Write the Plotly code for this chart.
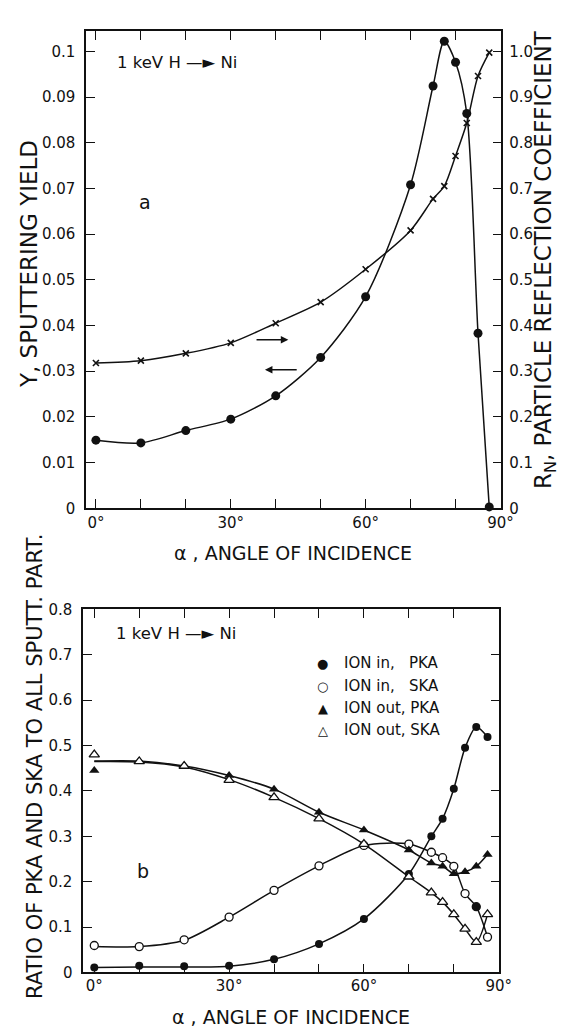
import plotly.graph_objects as go

# ---------------- data ----------------
angles = [0, 10, 20, 30, 40, 50, 60, 70, 75, 77.5, 80, 82.5, 85, 87.5]

# panel a
sputter_yield = [0.0149, 0.0143, 0.0170, 0.0195, 0.0246, 0.0330, 0.0463, 0.0708,
                 0.0924, 0.1022, 0.0976, 0.0864, 0.0383, 0.0003]
reflection = [0.318, 0.323, 0.339, 0.362, 0.405, 0.451, 0.523, 0.608,
              0.677, 0.705, 0.771, 0.843, 0.946, 0.997]

# panel b (measured points)
in_pka = [0.011, 0.015, 0.014, 0.015, 0.029, 0.063, 0.118, 0.217, 0.300, 0.339, 0.405, 0.495, 0.541, 0.519]
in_ska = [0.0595, 0.057, 0.072, 0.122, 0.181, 0.235, 0.280, 0.283, 0.265, 0.253, 0.234, 0.174, 0.145, 0.078]
out_pka = [0.445, 0.466, 0.455, 0.434, 0.404, 0.353, 0.314, 0.270, 0.241, 0.234, 0.2175, 0.222, 0.234, 0.260]
out_ska = [0.480, 0.465, 0.455, 0.424, 0.386, 0.339, 0.283, 0.211, 0.176, 0.155, 0.128, 0.096, 0.067, 0.128]
# one ION-in SKA point is printed as a filled circle in the original
in_ska_filled = [False] * 12 + [True] + [False]

# panel b (drawn curves)
in_pka_curve = [0.011, 0.012, 0.012, 0.014, 0.029, 0.063, 0.118, 0.217, 0.300, 0.339, 0.405, 0.495, 0.541, 0.519]
in_ska_curve = [0.057, 0.057, 0.071, 0.122, 0.181, 0.235, 0.280, 0.283, 0.265, 0.253, 0.234, 0.174, 0.145, 0.078]
out_pka_curve = [0.466, 0.466, 0.455, 0.434, 0.404, 0.353, 0.314, 0.270, 0.241, 0.234, 0.2175, 0.222, 0.234, 0.260]
out_ska_curve = [0.465, 0.464, 0.453, 0.425, 0.386, 0.339, 0.283, 0.211, 0.176, 0.155, 0.128, 0.096, 0.067, 0.128]

x_ticks = [0, 10, 20, 30, 40, 50, 60, 70, 80, 90]
x_text = ["0°", "", "", "30°", "", "", "60°", "", "", "90°"]
ya_ticks = [0, 0.01, 0.02, 0.03, 0.04, 0.05, 0.06, 0.07, 0.08, 0.09, 0.1]
ya_text = ["0", "0.01", "0.02", "0.03", "0.04", "0.05", "0.06", "0.07", "0.08", "0.09", "0.1"]
yr_ticks = [0, 0.1, 0.2, 0.3, 0.4, 0.5, 0.6, 0.7, 0.8, 0.9, 1.0]
yr_text = ["0", "0.1", "0.2", "0.3", "0.4", "0.5", "0.6", "0.7", "0.8", "0.9", "1.0"]
yb_ticks = [0, 0.1, 0.2, 0.3, 0.4, 0.5, 0.6, 0.7, 0.8]
yb_text = ["0", "0.1", "0.2", "0.3", "0.4", "0.5", "0.6", "0.7", "0.8"]

NB = "\u00a0"
legend_labels = ["ION in," + NB * 3 + "PKA", "ION in," + NB * 3 + "SKA",
                 "ION out," + NB + "PKA", "ION out," + NB + "SKA"]
legend_glyphs = ["●", "○", "▲", "△"]

# ---------------- figure ----------------
W, H = 565, 1029
FONT = "DejaVu Sans, Liberation Sans, Arial, sans-serif"
BLACK = "#111111"


def px(x):
    return x / W


def py(y):
    return 1 - y / H


fig = go.Figure()
LW = 1.5

# panel a
fig.add_trace(go.Scatter(x=angles, y=sputter_yield, mode="lines+markers", xaxis="x", yaxis="y",
                         line=dict(color=BLACK, width=LW, shape="spline", smoothing=0.8),
                         marker=dict(symbol="circle", size=9, color=BLACK),
                         cliponaxis=False, showlegend=False))
fig.add_trace(go.Scatter(x=angles, y=reflection, mode="lines+markers", xaxis="x", yaxis="y2",
                         line=dict(color=BLACK, width=LW, shape="spline", smoothing=0.8),
                         marker=dict(symbol="x-thin", size=6, line=dict(color=BLACK, width=1.6)),
                         cliponaxis=False, showlegend=False))

# panel b curves
for curve in [in_pka_curve, in_ska_curve, out_pka_curve, out_ska_curve]:
    fig.add_trace(go.Scatter(x=angles, y=curve, mode="lines", xaxis="x2", yaxis="y3",
                             line=dict(color=BLACK, width=LW, shape="spline", smoothing=0.8),
                             showlegend=False, hoverinfo="skip"))
# panel b markers
fig.add_trace(go.Scatter(x=angles, y=in_pka, mode="markers", xaxis="x2", yaxis="y3",
                         marker=dict(symbol="circle", size=8, color=BLACK),
                         cliponaxis=False, showlegend=False))
fig.add_trace(go.Scatter(x=angles, y=in_ska, mode="markers", xaxis="x2", yaxis="y3",
                         marker=dict(symbol="circle", size=8,
                                     color=[BLACK if f else "white" for f in in_ska_filled],
                                     line=dict(color=BLACK, width=1.3)),
                         cliponaxis=False, showlegend=False))
fig.add_trace(go.Scatter(x=angles, y=out_pka, mode="markers", xaxis="x2", yaxis="y3",
                         marker=dict(symbol="triangle-up", size=9, color=BLACK),
                         cliponaxis=False, showlegend=False))
fig.add_trace(go.Scatter(x=angles, y=out_ska, mode="markers", xaxis="x2", yaxis="y3",
                         marker=dict(symbol="triangle-up", size=9, color="white",
                                     line=dict(color=BLACK, width=1.3)),
                         cliponaxis=False, showlegend=False))

axis_common = dict(showgrid=False, zeroline=False, showline=True, linecolor=BLACK, linewidth=1.6,
                   ticks="inside", ticklen=9, tickwidth=1.3, tickcolor=BLACK,
                   tickfont=dict(family=FONT, size=15, color=BLACK))

fig.update_layout(
    width=W, height=H, margin=dict(l=0, r=0, t=0, b=0),
    paper_bgcolor="white", plot_bgcolor="white", showlegend=False,
    xaxis=dict(domain=[px(80), px(505)], range=[-2.17, 90.2], anchor="y",
               tickmode="array", tickvals=x_ticks, ticktext=x_text, mirror="ticks",
               ticklabelstandoff=0, **axis_common),
    yaxis=dict(domain=[py(500), py(14)], range=[0, 0.1045], anchor="x",
               tickmode="array", tickvals=ya_ticks, ticktext=ya_text,
               ticklabelstandoff=6, **axis_common),
    yaxis2=dict(range=[0, 1.045], overlaying="y", side="right", anchor="x",
                tickmode="array", tickvals=yr_ticks, ticktext=yr_text,
                ticklabelstandoff=3, **axis_common),
    xaxis2=dict(domain=[px(77), px(503)], range=[-2.46, 90.15], anchor="y3",
                tickmode="array", tickvals=x_ticks, ticktext=x_text, mirror="ticks",
                ticklabelstandoff=-1, **axis_common),
    yaxis3=dict(domain=[py(972.5), py(603)], range=[0, 0.8], anchor="x2",
                tickmode="array", tickvals=yb_ticks, ticktext=yb_text, mirror="ticks",
                ticklabelstandoff=6, **axis_common),
)

ann = []


def text(x, y, t, size, xref="paper", yref="paper", angle=0, xanchor="center", yanchor="middle"):
    ann.append(dict(x=x, y=y, xref=xref, yref=yref, text=t, showarrow=False, textangle=angle,
                    xanchor=xanchor, yanchor=yanchor,
                    font=dict(family=FONT, size=size, color=BLACK)))


# axis titles
text(px(292), py(546), "α , ANGLE OF INCIDENCE", 19)
text(px(290), py(1018), "α , ANGLE OF INCIDENCE", 19)
text(px(21), py(252), "Y, SPUTTERING YIELD", 23, angle=-90)
text(px(549), py(247), "R<sub>N</sub>, PARTICLE REFLECTION COEFFICIENT", 23, angle=-90)
text(px(27), py(762), "RATIO OF PKA AND SKA TO ALL SPUTT. PART.", 21, angle=-90)

# panel labels
text(px(110), py(46), "1 keV H —► Ni", 16.5, xanchor="left")
text(px(108), py(627), "1 keV H —► Ni", 16.5, xanchor="left")
text(11, 0.067, "a", 19, xref="x", yref="y")
text(px(138), py(869), "b", 19)

# small direction arrows in panel a
ann.append(dict(x=42.8, y=0.0369, ax=35.4, ay=0.0369, xref="x", yref="y", axref="x", ayref="y",
                showarrow=True, arrowhead=2, arrowsize=1, arrowwidth=1.5, arrowcolor=BLACK, text=""))
ann.append(dict(x=37.6, y=0.0303, ax=45.0, ay=0.0303, xref="x", yref="y", axref="x", ayref="y",
                showarrow=True, arrowhead=2, arrowsize=1, arrowwidth=1.5, arrowcolor=BLACK, text=""))

# legend of panel b
rows_y = [658, 681, 703.5, 726]
for g, lab, ry in zip(legend_glyphs, legend_labels, rows_y):
    text(px(322), py(ry), g, 13)
    text(px(342), py(ry), lab, 15, xanchor="left")

fig.update_layout(annotations=ann)
fig.write_html("out.html")
